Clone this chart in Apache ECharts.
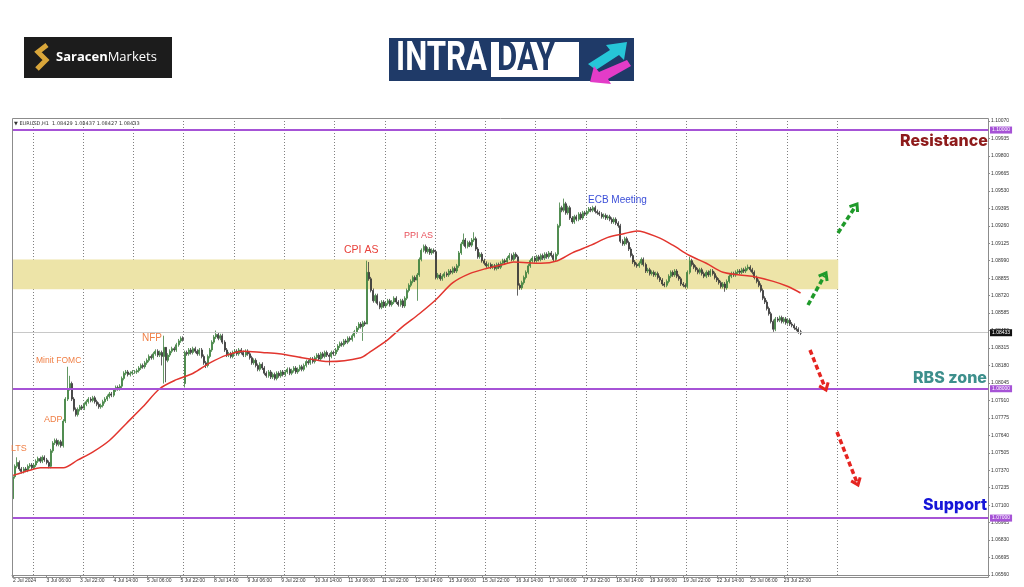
<!DOCTYPE html>
<html>
<head>
<meta charset="utf-8">
<title>EURUSD H1 Intraday</title>
<script src="https://cdn.jsdelivr.net/npm/echarts@6/dist/echarts.min.js"></script>
<style>
html, body { margin: 0; padding: 0; background: #fff; }
#main { width: 1024px; height: 587px; }
</style>
</head>
<body>
<div id="main"></div>
<script>
// prices in pips above 1.07000, one close per H1 bar (2 Jul 14:00 .. 24 Jul 06:00)
var BASE = 1.07;
var firstOpen = 15;
var cJul02 = [32, 40, 43, 38, 36, 38, 37, 40, 41, 39];
var cJul03 = [41, 44, 46, 44, 47, 45, 43, 40, 52, 58, 60, 57, 59, 56, 75, 92, 100, 104, 92, 84, 80, 84, 86, 85];
var cJul04 = [88, 90, 92, 91, 93, 90, 88, 86, 87, 90, 92, 94, 96, 95, 99, 101, 100, 102, 108, 112, 113, 111, 112, 113];
var cJul05 = [113, 114, 116, 118, 117, 120, 122, 125, 124, 127, 129, 126, 128, 125, 132, 122, 126, 129, 131, 130, 134, 137, 139, 138];
var cJul08 = [128, 127, 130, 128, 131, 129, 127, 130, 125, 120, 118, 125, 130, 136, 140, 142, 139, 141, 136, 130, 126, 127, 125, 128];
var cJul09 = [129, 127, 130, 128, 126, 129, 127, 124, 120, 122, 118, 115, 119, 116, 112, 110, 113, 109, 111, 108, 112, 110, 113, 111];
var cJul10 = [113, 115, 112, 114, 116, 113, 115, 117, 115, 118, 121, 120, 123, 121, 124, 126, 123, 127, 125, 128, 126, 125, 128, 127];
var cJul11 = [130, 133, 135, 134, 137, 136, 139, 138, 141, 144, 147, 150, 148, 151, 150, 190, 185, 176, 168, 172, 166, 163, 167, 164];
var cJul12 = [166, 168, 165, 167, 170, 167, 165, 168, 164, 170, 176, 180, 183, 186, 184, 188, 200, 207, 210, 206, 208, 205, 207, 206];
var cJul15 = [186, 188, 185, 187, 189, 188, 191, 190, 193, 191, 195, 205, 212, 215, 210, 213, 211, 215, 216, 208, 202, 204, 199, 197];
var cJul16 = [195, 196, 194, 195, 193, 196, 194, 197, 199, 198, 201, 203, 200, 204, 202, 180, 178, 182, 186, 190, 195, 199, 201, 199];
var cJul17 = [202, 200, 203, 201, 204, 202, 205, 203, 200, 204, 226, 240, 238, 243, 236, 240, 232, 229, 233, 231, 235, 232, 236, 235];
var cJul18 = [237, 239, 238, 240, 237, 236, 235, 233, 234, 232, 233, 231, 229, 231, 228, 226, 214, 212, 216, 213, 208, 203, 198, 196];
var cJul19 = [195, 197, 200, 196, 191, 192, 189, 190, 188, 189, 186, 184, 181, 180, 183, 187, 190, 188, 191, 187, 185, 181, 180, 179];
var cJul22 = [190, 199, 196, 194, 192, 190, 192, 189, 187, 190, 188, 191, 189, 186, 184, 182, 179, 181, 178, 183, 187, 189, 188, 190];
var cJul23 = [191, 190, 192, 191, 193, 194, 192, 190, 186, 183, 180, 176, 170, 167, 162, 158, 152, 146, 154, 153, 155, 152, 154, 151];
var cJul24 = [153, 150, 149, 147, 146, 144, 143];

// typical wick and the long ones (bar index -> pips)
var WICK = 1.5;
var highSpikes = {0: 33, 2: 47, 26: 117, 27: 110, 72: 141, 73: 130, 97: 145, 169: 199, 170: 198,
  215: 220, 220: 221, 237: 205, 261: 244, 263: 247, 323: 202, 351: 196};
var lowSpikes = {0: 12, 71: 118, 72: 104, 73: 105, 82: 101, 92: 116, 151: 118, 167: 137, 169: 150,
  193: 168, 241: 172, 340: 175, 363: 144};
var openGaps = {82: 104};

// moving average read at some bars
var maBars = [0, 8, 13, 24, 31, 38, 46, 54, 62, 70, 78, 86, 94, 102, 110, 119, 127, 138, 151, 166, 170, 179, 186, 194,
  202, 210, 218, 226, 234, 239, 252, 260, 267, 276, 284, 292, 298, 308, 315, 323, 331, 339, 347, 353, 363, 370, 376];
var maVals = [33, 37, 39, 39, 45, 51, 60, 73, 86, 100, 107, 112, 120, 126, 129, 128, 127, 124, 121, 124, 128, 138, 148, 158,
  169, 182, 189, 193, 196, 198, 197, 199, 205, 211, 217, 220, 222, 217, 211, 203, 197, 190, 188, 187, 183, 179, 174];

// time axis
var totalBars = 466;
var labelBars = [0, 16, 32, 48, 64, 80, 96, 112, 128, 144, 160, 176, 192, 208, 224, 240, 256, 272, 288, 304, 320, 336, 352, 368];
var tickLabels = ['2 Jul 2024', '3 Jul 06:00', '3 Jul 22:00', '4 Jul 14:00', '5 Jul 06:00', '5 Jul 22:00', '8 Jul 14:00',
  '9 Jul 06:00', '9 Jul 22:00', '10 Jul 14:00', '11 Jul 06:00', '11 Jul 22:00', '12 Jul 14:00', '15 Jul 06:00',
  '15 Jul 22:00', '16 Jul 14:00', '17 Jul 06:00', '17 Jul 22:00', '18 Jul 14:00', '19 Jul 06:00', '19 Jul 22:00',
  '22 Jul 14:00', '23 Jul 06:00', '23 Jul 22:00'];
var dayStarts = [10, 34, 58, 82, 106, 130, 154, 178, 202, 226, 250, 274, 298, 322, 346, 370, 394];

// levels
var resistance = 1.10000, rbsZone = 1.08000, support = 1.07000, lastPrice = 1.08433;
var zoneTop = 1.09000, zoneBottom = 1.08770, zoneEndBar = 394;

var closes = [].concat(cJul02, cJul03, cJul04, cJul05, cJul08, cJul09, cJul10, cJul11, cJul12,
  cJul15, cJul16, cJul17, cJul18, cJul19, cJul22, cJul23, cJul24);
function px(p) { return +(BASE + p / 10000).toFixed(5); }
var candles = closes.map(function (c, i) {
  var o = i === 0 ? firstOpen : (openGaps[i] != null ? openGaps[i] : closes[i - 1]);
  var hi = highSpikes[i] != null ? highSpikes[i] : Math.max(o, c) + WICK;
  var lo = lowSpikes[i] != null ? lowSpikes[i] : Math.min(o, c) - WICK;
  return [px(o), px(c), px(lo), px(hi)];
});
var maData = maBars.map(function (b, k) { return [b, px(maVals[k])]; });
var cats = [];
for (var i = 0; i < totalBars; i++) cats.push(String(i));

function arrow(x1, y1, x2, y2, color) {
  var a = Math.atan2(y2 - y1, x2 - x1), L = 8, s = 0.65;
  return [
    {type: 'line', shape: {x1: x1, y1: y1, x2: x2 - 3 * Math.cos(a), y2: y2 - 3 * Math.sin(a)},
      style: {stroke: color, lineWidth: 3.5, lineDash: [5, 3]}, z: 20},
    {type: 'polyline', shape: {points: [[x2 - L * Math.cos(a - s), y2 - L * Math.sin(a - s)], [x2, y2],
      [x2 - L * Math.cos(a + s), y2 - L * Math.sin(a + s)]]},
      style: {stroke: color, lineWidth: 3, fill: null}, z: 20}
  ];
}
function note(x, y, text, color, size, weight, family) {
  return {type: 'text', x: x, y: y, z: 20,
    style: {text: text, fill: color, fontSize: size, fontWeight: weight || 'normal',
      fontFamily: family || 'Liberation Sans', verticalAlign: 'middle'}};
}

var graphics = [
  // chart frame
  {type: 'rect', shape: {x: 12.5, y: 118.5, width: 976, height: 459}, style: {stroke: '#8c8c8c', fill: null, lineWidth: 1}, z: 10, silent: true},
  note(14, 124, '\u25BC EURUSD,H1  1.08429 1.08437 1.08427 1.08433', '#333', 5, 'normal', 'DejaVu Sans'),
  // Saracen Markets logo
  {type: 'rect', shape: {x: 24, y: 37, width: 148, height: 41}, style: {fill: '#1c1c1c'}},
  {type: 'polyline', shape: {points: [[47, 45], [38, 52], [46, 60], [37, 69]]}, style: {stroke: '#d9a63a', lineWidth: 5, fill: null}},
  {type: 'text', x: 56, y: 57, style: {text: '{a|Saracen}{b|Markets}', verticalAlign: 'middle',
    rich: {a: {fill: '#fff', fontSize: 13, fontWeight: 'bold', fontFamily: 'Open Sans'},
      b: {fill: '#fff', fontSize: 13, fontFamily: 'Open Sans'}}}},
  // INTRADAY logo
  {type: 'rect', shape: {x: 389, y: 38, width: 245, height: 43}, style: {fill: '#1f3a68'}},
  {type: 'text', x: 396, y: 60, scaleX: 0.78, style: {text: 'INTRA', fill: '#fff', fontSize: 40, fontWeight: 'bold', fontFamily: 'Roboto', verticalAlign: 'middle'}},
  {type: 'rect', shape: {x: 491, y: 42, width: 88, height: 35}, style: {fill: '#fff'}},
  {type: 'text', x: 497, y: 60, scaleX: 0.78, style: {text: 'DAY', fill: '#1f3a68', fontSize: 40, fontWeight: 'bold', fontFamily: 'Roboto', verticalAlign: 'middle'}},
  {type: 'polygon', shape: {points: [[588, 64], [610, 50], [606, 45], [627, 42], [624, 60], [619, 55], [596, 70]]}, style: {fill: '#26c6d8'}},
  {type: 'polygon', shape: {points: [[627, 60], [631, 66], [608, 79], [611, 84], [590, 82], [594, 66], [599, 72]]}, style: {fill: '#e33cc8'}},
  // event notes
  note(11, 449, 'LTS', '#f07f45', 9),
  note(44, 420, 'ADP', '#f07f45', 9),
  note(36, 361, 'Minit FOMC', '#f07f45', 8.5),
  note(142, 338, 'NFP', '#f07f45', 10),
  note(344, 250, 'CPI AS', '#e8403a', 10.5),
  note(404, 236, 'PPI AS', '#e8505a', 9),
  note(588, 200, 'ECB Meeting', '#3c4fd8', 10),
  note(900, 141, 'Resistance', '#8e1b1b', 16, 800, 'Inter'),
  note(913, 378, 'RBS zone', '#3d8f8c', 16, 800, 'Inter'),
  note(923, 505, 'Support', '#1515d8', 16, 800, 'Inter')
].concat(
  arrow(808, 305, 826, 273, '#1f9a2a'),
  arrow(838, 233, 857, 204, '#1f9a2a'),
  arrow(810, 350, 826, 390, '#e52420'),
  arrow(837, 432, 858, 485, '#e52420')
);

function levelLine(v, color, width, tagColor) {
  return {yAxis: v, lineStyle: {color: color, width: width, type: 'solid'},
    label: {show: true, position: 'end', distance: 2, formatter: v.toFixed(5), color: '#fff',
      backgroundColor: tagColor, padding: [1, 2], fontSize: 5, fontFamily: 'Liberation Sans'}};
}

var chart = echarts.init(document.getElementById('main'));
chart.setOption({
  animation: false,
  backgroundColor: '#fff',
  grid: {left: 12, right: 36, top: 121, bottom: 12},
  xAxis: {
    type: 'category', data: cats, boundaryGap: true,
    axisLine: {show: true, lineStyle: {color: '#8c8c8c'}},
    axisTick: {show: true, length: 3, alignWithLabel: true, lineStyle: {color: '#8c8c8c'},
      interval: function (i) { return labelBars.indexOf(i) >= 0; }},
    axisLabel: {interval: function (i) { return labelBars.indexOf(i) >= 0; },
      formatter: function (v, i) { return tickLabels[labelBars.indexOf(i)] || ''; },
      fontSize: 5, color: '#333', align: 'left', margin: 3, fontFamily: 'Liberation Sans'},
    splitLine: {show: true, interval: function (i) { return dayStarts.indexOf(i) >= 0; },
      lineStyle: {color: '#808080', type: [1, 2], width: 1}}
  },
  yAxis: {
    type: 'value', position: 'right', scale: true,
    min: 1.0656, max: 1.1007, interval: 0.00135,
    axisLine: {show: true, lineStyle: {color: '#8c8c8c'}},
    axisTick: {show: true, length: 2, lineStyle: {color: '#8c8c8c'}},
    axisLabel: {formatter: function (v) { return v.toFixed(5); }, fontSize: 5, color: '#333', margin: 3, fontFamily: 'Liberation Sans'},
    splitLine: {show: false}
  },
  graphic: graphics,
  series: [
    {
      type: 'line', data: [], z: 1, silent: true,
      markArea: {silent: true, itemStyle: {color: '#ede4a8'},
        data: [[{coord: [0, zoneTop]}, {coord: [zoneEndBar, zoneBottom]}]]}
    },
    {
      type: 'candlestick', data: candles, z: 3, barWidth: 1.5,
      itemStyle: {color: '#2e8b2e', color0: '#111', borderColor: '#3f7f3f', borderColor0: '#3a3a3a', borderWidth: 0.8},
      markLine: {silent: true, symbol: ['none', 'none'], precision: 5,
        data: [levelLine(lastPrice, '#c8c8c8', 1, '#111')]}
    },
    {
      type: 'line', data: maData, z: 4, showSymbol: false, smooth: 0.3, connectNulls: true,
      lineStyle: {color: '#e2352e', width: 1.5}
    },
    {
      type: 'line', data: [], z: 5, silent: true,
      markLine: {silent: true, symbol: ['none', 'none'],
        data: [levelLine(resistance, '#a653d6', 2, '#a653d6'), levelLine(rbsZone, '#a653d6', 2, '#a653d6'),
          levelLine(support, '#a653d6', 2, '#a653d6')]}
    }
  ]
});
</script>
</body>
</html>
